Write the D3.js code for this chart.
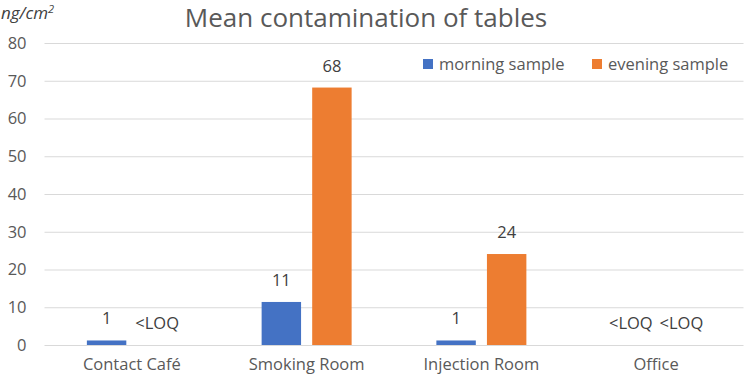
<!DOCTYPE html>
<meta charset="utf-8">
<title>Mean contamination of tables</title>
<style>
    body { margin: 0; background: #fff; }
    text { font-family: "Open Sans", sans-serif; }
    .grid line { stroke: #d9d9d9; stroke-width: 1; }
    .tick text { fill: #595959; font-size: 16.5px; }
    .lbl { fill: #404040; font-size: 16.5px; }
</style>

<svg width="744" height="378"></svg>

<script src="https://d3js.org/d3.v7.min.js"></script>
<script>

    var categories = ["Contact Café", "Smoking Room", "Injection Room", "Office"];
    var seriesNames = ["morning sample", "evening sample"];
    var morning = [1.2, 11.4, 1.2, 0];
    var evening = [0, 68.2, 24.1, 0];
    var morningLabels = ["1", "11", "1", "<LOQ"];
    var eveningLabels = ["<LOQ", "68", "24", "<LOQ"];
    var yTicks = [0, 10, 20, 30, 40, 50, 60, 70, 80];
    var colors = ["#4472c4", "#ed7d31"];

    var svg = d3.select("svg");

    var x0 = d3.scaleBand().domain(categories).range([44.5, 743.5]);
    var bw = x0.bandwidth();
    var x1 = d3.scaleBand().domain(seriesNames)
        .range([bw / 2 - 45, bw / 2 + 45]).paddingInner(0.22);
    var y = d3.scaleLinear().domain([0, 80]).range([345, 43]);

    // gridlines + y tick labels
    var yAxis = svg.append("g")
        .attr("class", "grid")
        .attr("transform", "translate(44.5,0)")
        .call(d3.axisLeft(y).tickValues(yTicks).tickSize(-699).tickPadding(18));
    yAxis.select(".domain").remove();
    yAxis.selectAll(".tick line").attr("stroke", "#d9d9d9");

    // x labels
    var xAxis = svg.append("g")
        .attr("transform", "translate(0,345)")
        .call(d3.axisBottom(x0).tickSize(0).tickPadding(13));
    xAxis.select(".domain").remove();

    var rows = categories.map(function (c, i) {
        return [
            { cat: c, s: seriesNames[0], v: morning[i], label: morningLabels[i] },
            { cat: c, s: seriesNames[1], v: evening[i], label: eveningLabels[i] }
        ];
    });

    var groups = svg.append("g").selectAll("g")
        .data(rows)
        .enter().append("g")
        .attr("transform", function (d) { return "translate(" + x0(d[0].cat) + ",0)"; });

    groups.selectAll("rect")
        .data(function (d) { return d; })
        .enter().append("rect")
        .attr("x", function (d) { return x1(d.s); })
        .attr("width", x1.bandwidth())
        .attr("y", function (d) { return y(d.v); })
        .attr("height", function (d) { return y(0) - y(d.v); })
        .attr("fill", function (d, i) { return colors[i]; });

    groups.selectAll("text.lbl")
        .data(function (d) { return d; })
        .enter().append("text")
        .attr("class", "lbl")
        .attr("text-anchor", "middle")
        .attr("x", function (d) { return x1(d.s) + x1.bandwidth() / 2; })
        .attr("y", function (d) { return y(d.v) - 16; })
        .text(function (d) { return d.label; });

    // title
    svg.append("text")
        .attr("x", 366).attr("y", 27)
        .attr("text-anchor", "middle")
        .attr("fill", "#595959")
        .style("font-size", "26px")
        .text("Mean contamination of tables");

    // unit label
    var unit = svg.append("text")
        .attr("x", 1).attr("y", 19)
        .attr("fill", "#404040")
        .style("font-size", "17px")
        .style("font-style", "italic");
    unit.append("tspan").text("ng/cm");
    unit.append("tspan").attr("dy", -6).style("font-size", "11px").text("2");

    // legend
    var legendX = [423, 592];
    var legend = svg.append("g").selectAll("g")
        .data(seriesNames)
        .enter().append("g")
        .attr("transform", function (d, i) { return "translate(" + legendX[i] + ",64)"; });
    legend.append("rect")
        .attr("y", -5).attr("width", 10).attr("height", 10)
        .attr("fill", function (d, i) { return colors[i]; });
    legend.append("text")
        .attr("x", 16).attr("dy", "0.35em")
        .attr("fill", "#595959")
        .style("font-size", "16.5px")
        .text(function (d) { return d; });

</script>
